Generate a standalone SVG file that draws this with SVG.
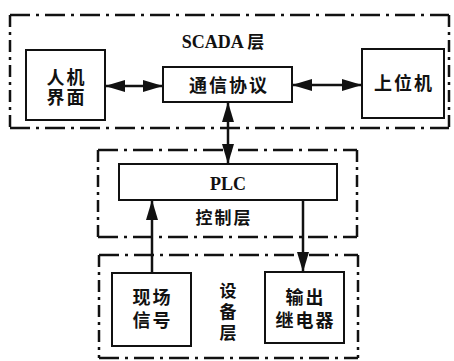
<svg xmlns="http://www.w3.org/2000/svg" width="454" height="361" viewBox="0 0 454 361">
<defs>
<style>
.layer-h{fill:none;stroke:#111;stroke-width:2.5;stroke-dasharray:20 6 3 6}
.layer-v{fill:none;stroke:#111;stroke-width:2.5;stroke-dasharray:12 5 3 5}
.box{fill:#fff;stroke:#111;stroke-width:2}
.conn{fill:none;stroke:#111;stroke-width:2.5}
.cjk{font-family:"Noto Sans CJK SC","Noto Sans",sans-serif;font-weight:700;font-size:18px;fill:#111;text-anchor:middle;letter-spacing:2px}
.lat{font-family:"Liberation Serif",serif;font-weight:700;font-size:18px;fill:#111;text-anchor:middle}
</style>
<marker id="ah" viewBox="0 0 20 12" refX="20" refY="6" markerWidth="20" markerHeight="12" markerUnits="userSpaceOnUse" orient="auto-start-reverse">
<path d="M0,0 L20,6 L0,12 z" fill="#111"/>
</marker>
</defs>
<rect width="454" height="361" fill="#fff"/>

<g id="scada-layer">
<path class="layer-h" d="M10,15 H449 M10,128 H449"/>
<path class="layer-v" d="M10,15 V128 M449,15 V128"/>
<text class="lat" x="224" y="48">SCADA <tspan class="cjk" style="font-size:17px">层</tspan></text>
</g>

<g id="control-layer">
<path class="layer-h" d="M98,150 H357 M98,237 H357"/>
<path class="layer-v" d="M98,150 V237 M357,150 V237"/>
<text class="cjk" x="224" y="224" style="font-size:17px">控制层</text>
</g>

<g id="device-layer">
<path class="layer-h" d="M99,255 H358 M99,358 H358"/>
<path class="layer-v" d="M99,255 V358 M358,255 V358"/>
<text class="cjk" style="font-size:17px;letter-spacing:0"><tspan x="228" y="297">设</tspan><tspan x="228" y="318">备</tspan><tspan x="228" y="339">层</tspan></text>
</g>

<g id="hmi">
<rect class="box" x="26" y="50" width="79" height="70"/>
<text class="cjk"><tspan x="66.5" y="84">人机</tspan><tspan x="66.5" y="104">界面</tspan></text>
</g>

<g id="protocol">
<rect class="box" x="163" y="67" width="129" height="35"/>
<text class="cjk" x="229" y="92">通信协议</text>
</g>

<g id="host">
<rect class="box" x="362" y="49" width="82" height="69"/>
<text class="cjk" x="404" y="90">上位机</text>
</g>

<g id="plc">
<rect class="box" x="119" y="164" width="218" height="36"/>
<text class="lat" x="228" y="190">PLC</text>
</g>

<g id="field-signal">
<rect class="box" x="112" y="273" width="79" height="73"/>
<text class="cjk"><tspan x="152.5" y="304">现场</tspan><tspan x="152.5" y="327">信号</tspan></text>
</g>

<g id="output-relay">
<rect class="box" x="265" y="272" width="79" height="71"/>
<text class="cjk"><tspan x="305.5" y="304">输出</tspan><tspan x="305.5" y="327">继电器</tspan></text>
</g>

<g id="connectors">
<path class="conn" d="M105,86 H163" marker-start="url(#ah)" marker-end="url(#ah)"/>
<path class="conn" d="M292,85 H362" marker-start="url(#ah)" marker-end="url(#ah)"/>
<path class="conn" d="M228,102 V164" marker-start="url(#ah)" marker-end="url(#ah)"/>
<path class="conn" d="M152,273 V200" marker-end="url(#ah)"/>
<path class="conn" d="M303,200 V272" marker-end="url(#ah)"/>
</g>
</svg>
